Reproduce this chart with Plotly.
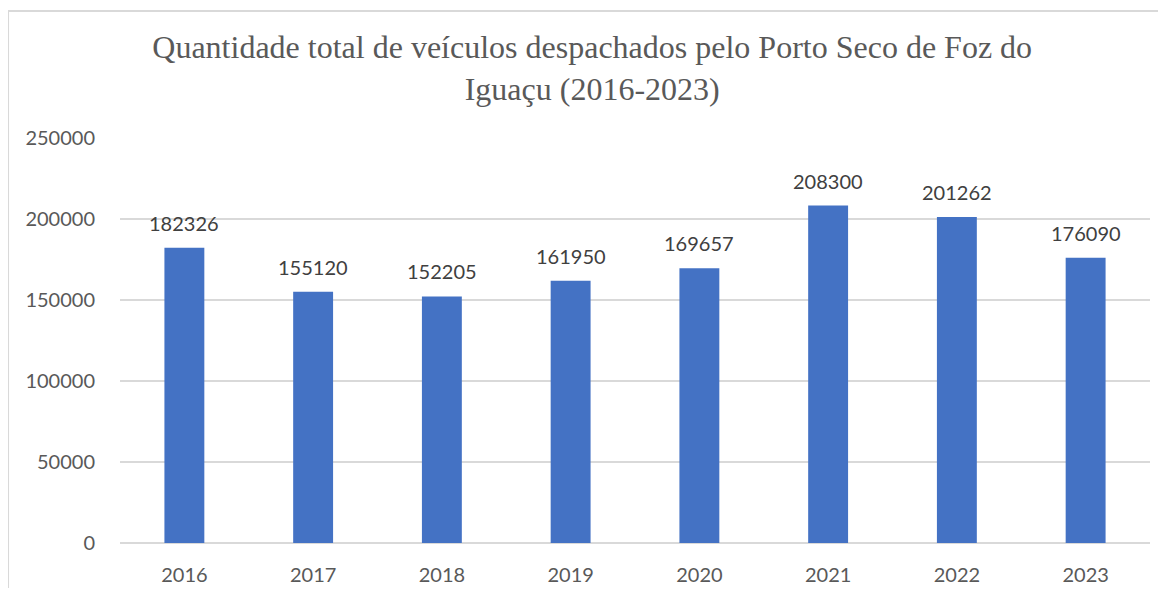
import plotly.graph_objects as go

# dados
anos = ["2016", "2017", "2018", "2019", "2020", "2021", "2022", "2023"]
veiculos = [182326, 155120, 152205, 161950, 169657, 208300, 201262, 176090]
y_ticks = [0, 50000, 100000, 150000, 200000, 250000]

AZUL = "#4472C4"
CINZA_TXT = "#595959"
GRADE = "#d9d9d9"

fig = go.Figure()

fig.add_trace(go.Bar(
    x=anos, y=veiculos,
    marker=dict(color=AZUL, line=dict(width=0)),
    width=0.31,
    hovertemplate="%{x}: %{y}<extra></extra>",
))

# rótulos de dados acima das barras (x = índice da categoria)
for i, v in enumerate(veiculos):
    fig.add_annotation(x=i, y=v, text=str(v), showarrow=False,
                       yanchor="bottom", yshift=11,
                       font=dict(family="Lato, sans-serif", size=20, color="#404040"))

# a página tem 8px de margem no body, por isso a figura tem 1150x580
fig.update_layout(
    width=1150, height=580,
    title=dict(text="Quantidade total de veículos despachados pelo Porto Seco de Foz do<br>Iguaçu (2016-2023)",
               font=dict(family="Liberation Serif, Times New Roman, serif", size=32, color=CINZA_TXT),
               x=0.508, xanchor="center", xref="container", y=0.913, yanchor="top"),
    paper_bgcolor="white", plot_bgcolor="white",
    margin=dict(l=112, r=8, t=130, b=45),
    showlegend=False,
    font=dict(family="Lato, sans-serif", size=20, color=CINZA_TXT),
    # moldura do gráfico (lados esquerdo e superior visíveis)
    shapes=[
        dict(type="line", xref="paper", yref="paper", x0=-0.1087, x1=-0.1087, y0=1.3136, y1=-0.2,
             line=dict(color=GRADE, width=2)),
        dict(type="line", xref="paper", yref="paper", x0=-0.1087, x1=1.1, y0=1.3136, y1=1.3136,
             line=dict(color=GRADE, width=2)),
    ],
)

fig.update_xaxes(type="category", range=[-0.5, len(anos) - 0.5], showgrid=False, showline=False,
                 ticks="outside", ticklen=14, tickcolor="rgba(0,0,0,0)",
                 tickfont=dict(size=20, color=CINZA_TXT), automargin=False)
fig.update_yaxes(range=[0, 250000], tickvals=y_ticks, tickformat="d",
                 showgrid=True, gridcolor=GRADE, gridwidth=1.5,
                 zeroline=True, zerolinecolor=GRADE, zerolinewidth=1.5,
                 showline=False, ticks="outside", ticklen=20, tickcolor="rgba(0,0,0,0)",
                 tickfont=dict(size=20, color=CINZA_TXT), automargin=False)

fig.write_html("out.html")
